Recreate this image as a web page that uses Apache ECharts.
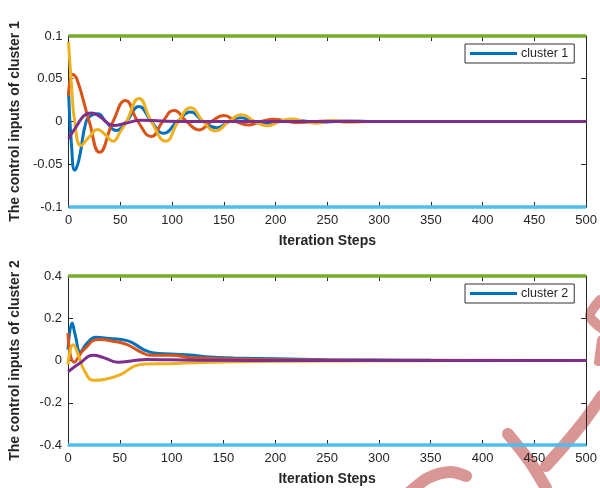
<!DOCTYPE html>
<html><head><meta charset="utf-8">
<script src="https://cdn.jsdelivr.net/npm/echarts@6/dist/echarts.min.js"></script>
<style>html,body{margin:0;padding:0;background:#fff}#c{width:600px;height:488px}</style>
</head><body><div id="c"></div>
<script>
// ---- data (steps, value) ----
const xTicks = [0,50,100,150,200,250,300,350,400,450,500];
const top_blue   = [[0,0.035],[3,-0.03],[6,-0.057],[10,-0.045],[17,0],[22,0.007],[28,0.009],[36,0.0],[46,-0.0105],[56,0],[68,0.0175],[80,0],[92,-0.0137],[105,0],[118,0.011],[130,0],[143,-0.0074],[155,0],[166,0.0043],[178,0],[190,-0.003],[203,0],[215,0.0018],[240,-0.0008],[265,0.0004],[300,0],[500,0]];
const top_orange = [[0,0.03],[4,0.055],[8,0.05],[20,0],[30,-0.036],[43,0],[55,0.0246],[67,0],[80,-0.0176],[91,0],[102,0.013],[114,0],[126,-0.0098],[138,0],[150,0.007],[162,0],[174,-0.004],[186,0],[198,0.0025],[222,-0.0012],[250,0.0005],[300,0],[500,0]];
const top_yellow = [[0,0.093],[3,0.04],[6,0],[12,-0.028],[20,-0.018],[28,-0.0095],[36,-0.016],[43,-0.023],[50,-0.012],[56,0],[68,0.027],[80,0],[94,-0.023],[106,0],[118,0.016],[130,0],[142,-0.011],[155,0],[167,0.008],[180,0],[192,-0.005],[204,0],[216,0.003],[228,0],[240,-0.002],[255,0.001],[270,-0.001],[290,0],[500,0]];
const top_purple = [[0,-0.02],[8,-0.005],[15,0.007],[22,0.01],[30,0.006],[38,-0.002],[44,-0.0047],[55,-0.002],[70,0.0015],[90,0.0005],[120,0],[500,0]];
const bot_blue   = [[0,0.052],[4,0.177],[7,0.12],[12,0.041],[18,0.08],[27,0.11],[40,0.104],[57,0.094],[73,0.052],[83,0.036],[99,0.031],[121,0.025],[137,0.016],[160,0.012],[200,0.008],[250,0.004],[300,0.002],[350,0.001],[500,0]];
const bot_orange = [[0,0.13],[6,-0.008],[15,0.05],[30,0.099],[45,0.09],[57,0.075],[70,0.041],[80,0.025],[99,0.025],[121,0.0125],[160,0.007],[200,0.004],[300,0.001],[500,0]];
const bot_yellow = [[0,-0.019],[5,0.075],[11,0.013],[16,-0.05],[25,-0.094],[35,-0.09],[51,-0.066],[64,-0.027],[76,-0.016],[105,-0.014],[137,-0.008],[200,-0.004],[300,-0.001],[500,0]];
const bot_purple = [[0,-0.053],[12,-0.011],[24,0.025],[35,0.0125],[48,-0.008],[64,0],[76,0.005],[100,0.003],[150,0.001],[200,0],[500,0]];
const top_bounds = [0.1,-0.1];
const bot_bounds = [0.4,-0.4];
const names = ['cluster 1','cluster 2'];

const C = {blue:'#0072BD',orange:'#D95319',yellow:'#EDB120',purple:'#7E2F8E',green:'#77AC30',lblue:'#4DBEEE'};
const FONT = "'Liberation Sans', Arial, sans-serif";
const TXT = '#262626';

function line(name, data, color, xi, w){
  return {name, type:'line', xAxisIndex:xi, yAxisIndex:xi, data, smooth:0.5, showSymbol:false, symbol:'none',
    lineStyle:{color, width:w||3}, itemStyle:{color}, clip:false, z:5, silent:true, animation:false};
}
function bound(v, color, xi){
  return {name:'b'+xi+v, type:'line', xAxisIndex:xi, yAxisIndex:xi, data:[[0,v],[500,v]], showSymbol:false, symbol:'none',
    lineStyle:{color, width:3.5}, clip:false, z:6, silent:true, animation:false};
}
function xAx(gi, bottom){
  return {type:'value', gridIndex:gi, min:0, max:500, interval:50, position: bottom?'bottom':'top',
    axisLine:{show:true, onZero:false, lineStyle:{color:TXT, width:1}},
    axisTick:{show:true, inside:true, length:5, lineStyle:{color:TXT}},
    axisLabel:{show:bottom, color:TXT, fontFamily:FONT, fontSize:13, margin:7},
    splitLine:{show:false},
    name: bottom?'Iteration Steps':'', nameLocation:'middle', nameGap:27,
    nameTextStyle:{color:TXT, fontFamily:FONT, fontSize:14, fontWeight:'bold'}};
}
function yAx(gi, left, mn, iv, nm, gap){
  return {type:'value', gridIndex:gi, min:mn, max:-mn, interval:iv, position:left?'left':'right',
    axisLine:{show:true, onZero:false, lineStyle:{color:TXT, width:1}},
    axisTick:{show:true, inside:true, length:5, lineStyle:{color:TXT}},
    axisLabel:{show:left, color:TXT, fontFamily:FONT, fontSize:13, margin:6,
      formatter:v=>String(+v.toFixed(3))},
    splitLine:{show:false},
    name: left?nm:'', nameLocation:'middle', nameGap:gap||40, nameRotate:90,
    nameTextStyle:{color:TXT, fontFamily:FONT, fontSize:14, fontWeight:'bold'}};
}
function legend(top, nm){
  return {data:[nm], left:465, top:top, orient:'vertical', icon:'rect', itemWidth:47, itemHeight:3, itemGap:0,
    padding:[3,6,3,5], borderColor:'#333', borderWidth:1, backgroundColor:'#fff',
    textStyle:{color:TXT, fontFamily:FONT, fontSize:12.5, padding:[0,0,0,-1]}, selectedMode:false, z:10};
}

const wm = 'rgba(205,120,118,0.78)';
function wmLine(points, w){
  return {type:'polyline', shape:{points, smooth:0.3}, style:{stroke:wm, lineWidth:w||12, fill:null, lineCap:'round'}, z:-1, silent:true};
}

const chart = echarts.init(document.getElementById('c'), null, {renderer:'canvas'});
chart.setOption({
  animation:false,
  backgroundColor:'#fff',
  grid:[{left:67, right:11, top:36, height:171},{left:67, right:11, top:276, height:169}],
  xAxis:[xAx(0,true), xAx(1,true), xAx(0,false), xAx(1,false)],
  yAxis:[yAx(0,true,-0.1,0.05,'The control inputs of cluster 1',42), yAx(1,true,-0.4,0.2,'The control inputs of cluster 2',46),
         yAx(0,false,-0.1,0.05,''), yAx(1,false,-0.4,0.2,'')],
  legend:[legend(44,names[0]), legend(284,names[1])],
  graphic:[
    wmLine([[508,434],[530,462],[546,488]]),
    wmLine([[602,396],[585,420],[562,448],[546,466]]),
    wmLine([[410,492],[428,478],[450,472],[466,476]]),
    wmLine([[600,300],[590,316],[604,330]], 10),
    wmLine([[601,340],[598,362]], 8)
  ],
  series:[
    line(names[0], top_blue, C.blue, 0), line('o1', top_orange, C.orange, 0), line('y1', top_yellow, C.yellow, 0), line('p1', top_purple, C.purple, 0),
    bound(top_bounds[0], C.green, 0), bound(top_bounds[1], C.lblue, 0),
    line(names[1], bot_blue, C.blue, 1), line('o2', bot_orange, C.orange, 1), line('y2', bot_yellow, C.yellow, 1), line('p2', bot_purple, C.purple, 1),
    bound(bot_bounds[0], C.green, 1), bound(bot_bounds[1], C.lblue, 1)
  ]
});
</script></body></html>
